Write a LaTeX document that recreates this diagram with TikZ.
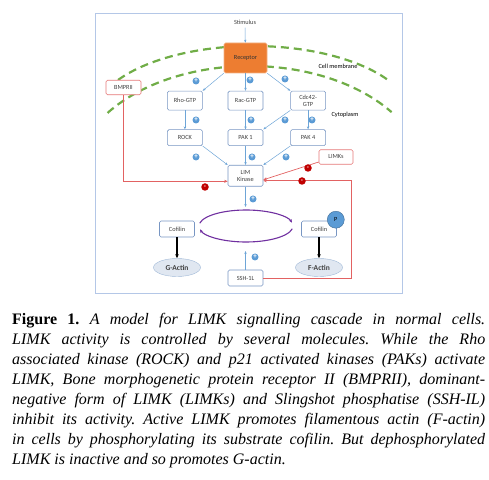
\documentclass[tikz,border=0pt]{standalone}
\usepackage{fontspec}
\usepackage{tikz}
\usetikzlibrary{positioning, shapes.geometric, arrows.meta, calc}

\newfontfamily\lblfont{Carlito}
\newfontfamily\capfont{Liberation Serif}
\newcommand{\lbl}{\lblfont\fontsize{6.3}{7}\selectfont}

\definecolor{boxblue}{RGB}{120,150,195}
\definecolor{arrblue}{RGB}{110,165,215}
\definecolor{plusblue}{RGB}{91,155,213}
\definecolor{minusred}{RGB}{192,0,0}
\definecolor{inhred}{RGB}{226,98,98}
\definecolor{rededge}{RGB}{230,120,120}
\definecolor{memgreen}{RGB}{112,173,71}
\definecolor{cycpurple}{RGB}{112,48,160}
\definecolor{recorange}{RGB}{237,125,49}
\definecolor{recedge}{RGB}{244,177,131}
\definecolor{framecol}{RGB}{180,199,231}
\definecolor{actfill}{RGB}{224,231,241}
\definecolor{actedge}{RGB}{160,185,215}
\definecolor{txtgray}{RGB}{64,64,64}

\begin{document}
\begin{tikzpicture}[x=1pt, y=1pt,
                box/.style={draw=boxblue, line width=0.6pt, rounded corners=1.5pt, fill=white, minimum width=35pt, minimum height=16pt, inner sep=1pt, align=center, font=\lbl, text=txtgray},
                tallbox/.style={box, minimum height=19pt},
                redbox/.style={box, draw=rededge, minimum height=14.5pt},
                recbox/.style={box, draw=recedge, fill=recorange, minimum width=43pt, minimum height=30pt, text=black!80},
                actin/.style={draw=actedge, fill=actfill, ellipse, minimum width=47pt, minimum height=18pt, inner sep=0pt, font=\lblfont\bfseries\fontsize{7.5}{8}\selectfont, text=txtgray},
                phos/.style={draw=plusblue!70!black, fill=plusblue, circle, minimum size=17pt, inner sep=0pt, font=\lbl, text=black},
                plus/.style={circle, fill=plusblue, inner sep=0pt, minimum size=7pt, text=white, font=\lblfont\bfseries\fontsize{7}{5}\selectfont},
                minus/.style={circle, fill=minusred, inner sep=0pt, minimum size=7.5pt, text=white, font=\lblfont\bfseries\fontsize{7}{5}\selectfont},
                act/.style={draw=arrblue, line width=0.5pt, -{Stealth[length=3pt, width=2.4pt]}},
                inh/.style={draw=inhred, line width=0.7pt, -{Stealth[length=3.5pt, width=3pt]}},
                dark/.style={draw=black, line width=1.1pt, -{Stealth[length=4pt, width=3.5pt]}},
                membrane/.style={draw=memgreen, line width=2.2pt, dash pattern=on 8pt off 5pt},
                loopline/.style={draw=cycpurple, line width=1.1pt, -{Stealth[length=3.5pt, width=3pt]}},
                varlabel/.style={font=\lbl, text=black},
                caption/.style={font=\capfont\fontsize{16}{20}\selectfont\frenchspacing, text width=473pt, align=justify, inner sep=0pt}
            ]

            \useasboundingbox (0,0) rectangle (489,479);
            \draw[framecol, line width=0.8pt] (95,186) rectangle (402,466);

            % membrane
            \coordinate (memup) at (253,359.6);
            \coordinate (memlow) at (250,301);
            \draw[membrane] ([shift={(147.5:160 and 73.4)}]memup) arc[start angle=147.5, end angle=33, x radius=160, y radius=73.4];
            \draw[membrane] ([shift={(144.5:175 and 112)}]memlow) arc[start angle=144.5, end angle=36, x radius=175, y radius=112];
            \node[varlabel] (memtxt) at (338,413) {Cell membrane};
            \node[varlabel] (cyttxt) at (345,364) {Cytoplasm};

            % nodes
            \node[varlabel, text=txtgray] (stim) at (245,457) {Stimulus};
            \node[recbox] (rec) at (245.5,421) {Receptor};
            \node[tallbox, below=17.5pt of rec] (rac) {Rac-GTP};
            \node[tallbox, left=25pt of rac] (rho) {Rho-GTP};
            \node[tallbox, right=27pt of rac] (cdc) {Cdc42-\\GTP};
            \node[box, below=19pt of rac] (pak1) {PAK 1};
            \node[box, below=19pt of rho] (rock) {ROCK};
            \node[box, below=19pt of cdc] (pak4) {PAK 4};
            \node[box, minimum height=21pt, below=19pt of pak1] (lim) {LIM\\Kinase};
            \node[redbox] (bmp) at (123.5,391.5) {BMPRII};
            \node[redbox, minimum width=34pt] (limks) at (336,322) {LIMKs};
            \node[box] (cofl) at (177,250) {Cofilin};
            \node[box] (cofr) at (319,250) {Cofilin};
            \node[phos] (p) at ([xshift=-1pt, yshift=1pt]cofr.north east) {P};
            \node[actin, below=21pt of cofl] (gact) {G-Actin};
            \node[actin, below=21pt of cofr] (fact) {F-Actin};
            \node[box] (ssh) at (245.5,201) {SSH-1L};

            % cycle
            \coordinate (cyc) at (246,253);
            \coordinate (cyctop) at (245.5,272);
            \coordinate (cycbot) at (245.5,228);
            \draw[loopline] ([shift={(170:47 and 16)}]cyc) arc[start angle=170, end angle=12, x radius=47, y radius=16];
            \draw[loopline] ([shift={(-10:47 and 16)}]cyc) arc[start angle=-10, end angle=-168, x radius=47, y radius=16];

            % activating edges
            \draw[act] (stim) -- (rec);
            \draw[act] (rec.south west) -- (rho.north east);
            \draw[act] (rec) -- (rac);
            \draw[act] (rec.south east) -- (cdc.north west);
            \draw[act] (rho) -- (rock);
            \draw[act] (rac) -- (pak1);
            \draw[act] (cdc) -- (pak4);
            \draw[act] (cdc.south west) -- (pak1.north east);
            \draw[act] (rock.south east) -- (lim.north west);
            \draw[act] (pak1) -- (lim);
            \draw[act] (pak4.south west) -- (lim.north east);
            \draw[act] (lim) -- (cyctop);
            \draw[act] (ssh) -- (cycbot);
            \draw[dark] (cofl) -- (gact);
            \draw[dark] (cofr) -- (fact);

            % inhibiting edges
            \draw[inh] (bmp.south) |- ([yshift=-5.5pt]lim.west);
            \draw[inh] (ssh.east) -- ++(88,0) |- ([yshift=-5pt]lim.east);
            \draw[inh] ([yshift=-5pt]limks.west) -- ([yshift=-4pt]lim.east);

            % signs
            \node[plus] (p1) at (196,398) {+};
            \node[plus] (p2) at (250,399) {+};
            \node[plus] (p3) at (285,400) {+};
            \node[plus] (p4) at (196,359) {+};
            \node[plus] (p5) at (251,359) {+};
            \node[plus] (p6) at (285,359) {+};
            \node[plus] (p7) at (312,359) {+};
            \node[plus] (p8) at (196,322) {+};
            \node[plus] (p9) at (252,322) {+};
            \node[plus] (p10) at (286,322) {+};
            \node[plus] (p11) at (253,280) {+};
            \node[plus] (p12) at (255,222) {+};
            \node[minus] (m1) at (205,292) {-};
            \node[minus] (m2) at (302,298) {-};
            \node[minus] (m3) at (308,311) {-};

            % caption
            \node[caption, anchor=north west] (cap) at (12,165.5) {\textbf{Figure 1.} {\itshape A model for LIMK signalling cascade in normal cells.\linebreak
            LIMK activity is controlled by several molecules. While the Rho\linebreak
            associated kinase (ROCK) and p21 activated kinases (PAKs) activate\linebreak
            LIMK, Bone morphogenetic protein receptor II (BMPRII), dominant-\linebreak
            negative form of LIMK (LIMKs) and Slingshot phosphatise (SSH-IL)\linebreak
            inhibit its activity. Active LIMK promotes filamentous actin (F-actin)\linebreak
            in cells by phosphorylating its substrate cofilin. But dephosphorylated\linebreak
            LIMK is inactive and so promotes G-actin.}};

        \end{tikzpicture}
\end{document}
